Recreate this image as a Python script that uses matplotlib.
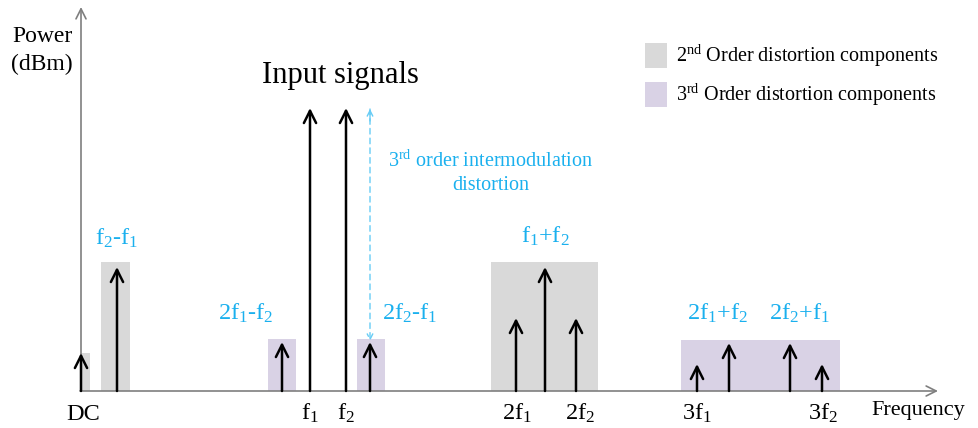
"""Two-tone distortion spectrum sketch (matplotlib only)."""
import matplotlib
matplotlib.use("Agg")
import matplotlib.pyplot as plt
from matplotlib.patches import Rectangle

plt.rcParams["font.family"] = ["Liberation Serif", "DejaVu Serif"]
plt.rcParams["mathtext.fontset"] = "custom"
plt.rcParams["mathtext.rm"] = "Liberation Serif"
plt.rcParams["mathtext.it"] = "Liberation Serif"

# spectral lines: position on the frequency axis and relative power
tone_names = ["DC", "f2-f1", "2f1-f2", "f1", "f2", "2f2-f1",
              "2f1", "f1+f2", "2f2", "3f1", "2f1+f2", "2f2+f1", "3f2"]
tone_freq = [0, 36, 201, 229, 265, 289, 435, 464, 495, 616, 648, 709, 741]
tone_power = [38, 124, 49, 283, 283, 49, 73, 124, 73, 27, 48, 48, 27]

# shaded groups: (start, end, height, order)
group_start = [-1, 20, 187, 276, 410, 600]
group_end = [9, 49, 215, 304, 517, 759]
group_height = [38, 129, 52, 52, 129, 51]
group_order = [2, 2, 3, 3, 2, 3]

# axis tick labels
tick_pos = [2, 229, 265, 436, 499, 616, 742]
tick_labels = ["DC", r"f$_1$", r"f$_2$", r"2f$_1$", r"2f$_2$", r"3f$_1$", r"3f$_2$"]

# blue product labels
prod_pos = [36, 165, 329, 464, 636, 718]
prod_level = [146, 71, 71, 148, 71, 71]
prod_labels = [r"f$_2$-f$_1$", r"2f$_1$-f$_2$", r"2f$_2$-f$_1$",
               r"f$_1$+f$_2$", r"2f$_1$+f$_2$", r"2f$_2$+f$_1$"]

GRAY = "#d9d9d9"
PURPLE = "#d9d2e5"
BLUE = "#1ab0ee"
colors = {2: GRAY, 3: PURPLE}

fig = plt.figure(figsize=(9.79, 4.28), dpi=100)
ax = fig.add_axes([0, 0, 1, 1])
ax.set_xlim(-81, 898)
ax.set_ylim(-37, 391)
ax.axis("off")

for x0, x1, h, o in zip(group_start, group_end, group_height, group_order):
    ax.add_patch(Rectangle((x0, 0), x1 - x0, h, facecolor=colors[o],
                           edgecolor="none", zorder=1))

# axes with open arrowheads
axis_kw = dict(arrowstyle="->", color="#7f7f7f", lw=1.2, shrinkA=0, shrinkB=0,
               mutation_scale=18)
ax.annotate("", xy=(0, 384), xytext=(0, 0), arrowprops=axis_kw, zorder=2)
ax.annotate("", xy=(857, 0), xytext=(-1, 0), arrowprops=axis_kw, zorder=2)

for f, p in zip(tone_freq, tone_power):
    ax.annotate("", xy=(f, p), xytext=(f, 0), zorder=3,
                arrowprops=dict(arrowstyle="->", color="black", lw=1.8,
                                shrinkA=0, shrinkB=0, mutation_scale=22))

# 3rd-order IMD marker
ax.annotate("", xy=(289, 50), xytext=(289, 282), zorder=4,
            arrowprops=dict(arrowstyle="->", color="#66ccf5", lw=1.0,
                            linestyle=(0, (4, 3)), shrinkA=0, shrinkB=0,
                            mutation_scale=10))
ax.annotate("", xy=(289, 282), xytext=(289, 270), zorder=4,
            arrowprops=dict(arrowstyle="->", color="#66ccf5", lw=1.0,
                            shrinkA=0, shrinkB=0, mutation_scale=10))

for x, lab in zip(tick_pos, tick_labels):
    ax.text(x, -29, lab, ha="center", va="baseline", fontsize=17.5)
ax.text(790, -24, "Frequency", ha="left", va="baseline", fontsize=16)

ax.text(-39, 349, "Power", ha="center", va="baseline", fontsize=17)
ax.text(-39, 321, "(dBm)", ha="center", va="baseline", fontsize=17)
ax.text(259, 308, "Input signals", ha="center", va="baseline", fontsize=22)

for x, y, lab in zip(prod_pos, prod_level, prod_labels):
    ax.text(x, y, lab, ha="center", va="baseline", fontsize=17.5, color=BLUE)

ax.text(410, 224, "3$^{\\rm rd}$ order intermodulation", ha="center",
        va="baseline", fontsize=14.5, color=BLUE)
ax.text(410, 201, "distortion", ha="center", va="baseline", fontsize=14.5,
        color=BLUE)

# legend
for y0, o, lab in [(323, 2, "2$^{\\rm nd}$ Order distortion components"),
                   (284, 3, "3$^{\\rm rd}$ Order distortion components")]:
    ax.add_patch(Rectangle((564, y0), 22, 25, facecolor=colors[o], edgecolor="none"))
    ax.text(595, y0 + 12, lab, ha="left", va="center", fontsize=14.5)

fig.savefig("out.png", dpi=100)
